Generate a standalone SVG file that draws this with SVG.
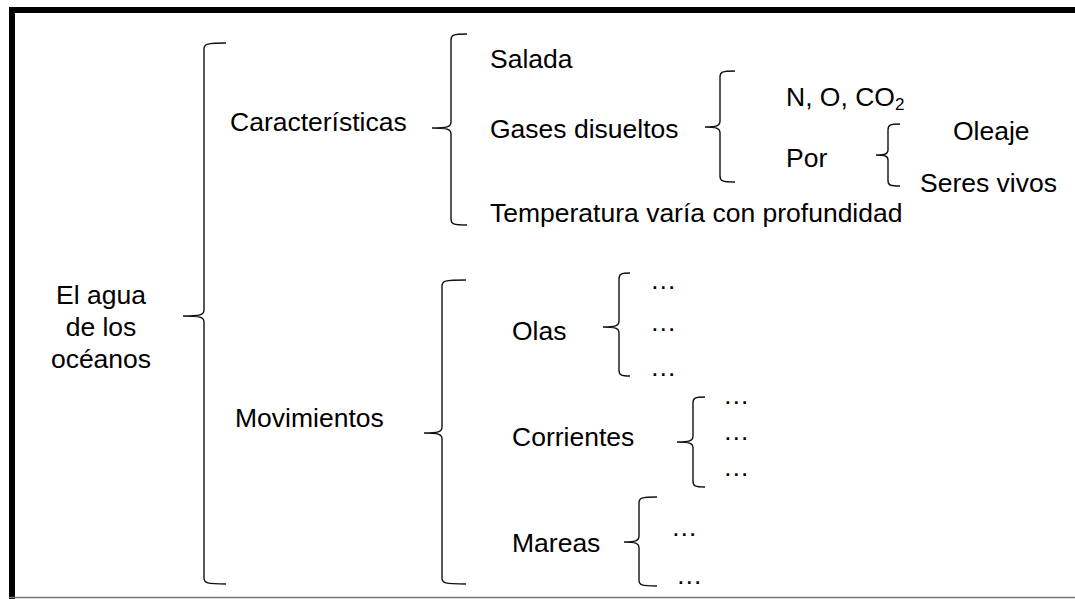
<svg xmlns="http://www.w3.org/2000/svg" width="1075" height="599" viewBox="0 0 1075 599">
<style>
.t{font-family:"Liberation Sans",Arial,sans-serif;font-size:26.5px;fill:#000}
.b{fill:none;stroke:#111;stroke-width:1.4}
</style>
<rect x="0" y="0" width="1075" height="599" fill="#fff"/>
<g id="frame">
<rect x="9" y="7" width="1066" height="6" fill="#000"/>
<rect x="9" y="7" width="6" height="592" fill="#000"/>
<line x1="9" y1="597.5" x2="1075" y2="597.5" stroke="#777" stroke-width="1.5"/>
</g>
<g id="connectors">
<path class="b" d="M226,43 C207,43 204,44 204,49 L204,310 C204,315 200,316 183,316 C200,316 204,317 204,322 L204,578 C204,583 207,584 226,584"/>
<path class="b" d="M467,34 C453,34 451,35 451,40 L451,122 C451,127 447,128 432,128 C447,128 451,129 451,134 L451,219 C451,224 453,225 467,225"/>
<path class="b" d="M735,71 C722,71 720,72 720,77 L720,121 C720,126 716,127 705,127 C716,127 720,128 720,133 L720,176 C720,181 722,182 735,182"/>
<path class="b" d="M900,124 C890,124 888,125 888,130 L888,150 C888,154 885,155 876,155 C885,155 888,156 888,160 L888,181 C888,185 890,186 900,186"/>
<path class="b" d="M466,280 C444,280 442,281 442,286 L442,427 C442,432 438,433 424,433 C438,433 442,434 442,439 L442,578 C442,583 444,584 466,584"/>
<path class="b" d="M630,273 C621,273 619,274 619,279 L619,321 C619,326 615,327 603,327 C615,327 619,328 619,333 L619,370 C619,375 621,376 630,376"/>
<path class="b" d="M705,397 C695,397 693,398 693,403 L693,436 C693,441 689,442 677,442 C689,442 693,443 693,448 L693,481 C693,486 695,487 705,487"/>
<path class="b" d="M657,497 C641,497 639,498 639,503 L639,536 C639,541 635,542 624,542 C635,542 639,543 639,548 L639,580 C639,585 641,586 657,586"/>
</g>
<g id="root"><text class="t" x="101" y="304" text-anchor="middle">El agua</text><text class="t" x="101" y="336" text-anchor="middle">de los</text><text class="t" x="101" y="368" text-anchor="middle">océanos</text></g>
<g id="caracteristicas"><text class="t" x="230" y="131">Características</text></g>
<g id="salada"><text class="t" x="490" y="68">Salada</text></g>
<g id="gases"><text class="t" x="490" y="138">Gases disueltos</text></g>
<g id="temperatura"><text class="t" x="490" y="222">Temperatura varía con profundidad</text></g>
<g id="noco2"><text class="t" x="786" y="106">N, O, CO<tspan font-size="17" dy="4">2</tspan></text></g>
<g id="por"><text class="t" x="786" y="167">Por</text></g>
<g id="oleaje"><text class="t" x="953" y="140">Oleaje</text></g>
<g id="seres"><text class="t" x="920" y="192">Seres vivos</text></g>
<g id="movimientos"><text class="t" x="235" y="427">Movimientos</text></g>
<g id="olas"><text class="t" x="512" y="340">Olas</text></g>
<g id="olas-items"><text class="t" x="650" y="289">…</text><text class="t" x="650" y="331">…</text><text class="t" x="650" y="376">…</text></g>
<g id="corrientes"><text class="t" x="512" y="446">Corrientes</text></g>
<g id="corrientes-items"><text class="t" x="723" y="404">…</text><text class="t" x="723" y="440">…</text><text class="t" x="723" y="476">…</text></g>
<g id="mareas"><text class="t" x="512" y="552">Mareas</text></g>
<g id="mareas-items"><text class="t" x="671" y="536">…</text><text class="t" x="676" y="584">…</text></g>
</svg>
